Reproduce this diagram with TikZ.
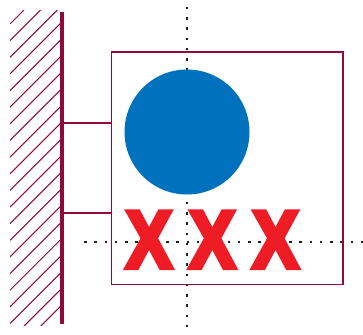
\documentclass[tikz,border=0pt]{standalone}
\usepackage{fontspec}
\usepackage{graphicx}
\setmainfont{Liberation Sans}
\newfontfamily\heavyfont[UprightFont=* Bold,FakeBold=6]{Liberation Sans}
\definecolor{wallc}{HTML}{8F0A3A}
\definecolor{ballc}{HTML}{0071BC}
\definecolor{redc}{HTML}{EE1C25}
\definecolor{dotc}{HTML}{231F20}
\tikzset{
  maroon/.style={draw=wallc,line width=1.8pt},
  hatchline/.style={draw=wallc,line width=1.05pt},
  dotline/.style={draw=dotc,line width=2.5pt,dash pattern=on 2.5pt off 7.75pt},
  cross/.style={text=redc,font=\heavyfont,inner sep=0pt,outer sep=0pt}
}
\newcommand{\bigx}{\resizebox{46pt}{56pt}{X}}
\begin{document}
\begin{tikzpicture}[x=1pt,y=-1pt]
\useasboundingbox (0,0) rectangle (363,334);
\fill[white] (0,0) rectangle (363,334);
% hatching
\begin{scope}
\clip (10,11) rectangle (60,325);
\foreach \k in {0,...,20}{
  \path[hatchline,draw] (10,{24+16.64*\k}) -- ++(62,-62);
}
\end{scope}
% dotted axes
\coordinate (vtop) at (187,7);
\coordinate (vbot) at (187,328);
\coordinate (hl) at (84,242);
\coordinate (hr) at (363,242);
\draw[dotline] (vtop) -- (vbot);
\draw[dotline] (hl) -- (hr);
% frame
\node[maroon,rectangle,inner sep=0pt,minimum width=231.5pt,minimum height=232.5pt] (box) at (227.25,168.25) {};
% wall
\coordinate (walltop) at (61.5,12);
\coordinate (wallbot) at (61.5,324);
\draw[draw=wallc,line width=4pt] (walltop) -- (wallbot);
\coordinate (s1) at (61.5,123);
\coordinate (s2) at (61.5,213);
\draw[maroon] (s1) -- (s1 -| box.west);
\draw[maroon] (s2) -- (s2 -| box.west);
% ball
\node[circle,fill=ballc,inner sep=0pt,minimum size=125pt] (ball) at (187,132) {};
% crosses
\node[cross] (x1) at (149,239.75) {\bigx};
\node[cross] (x2) at (212.3,239.75) {\bigx};
\node[cross] (x3) at (275.5,239.75) {\bigx};
\end{tikzpicture}
\end{document}
